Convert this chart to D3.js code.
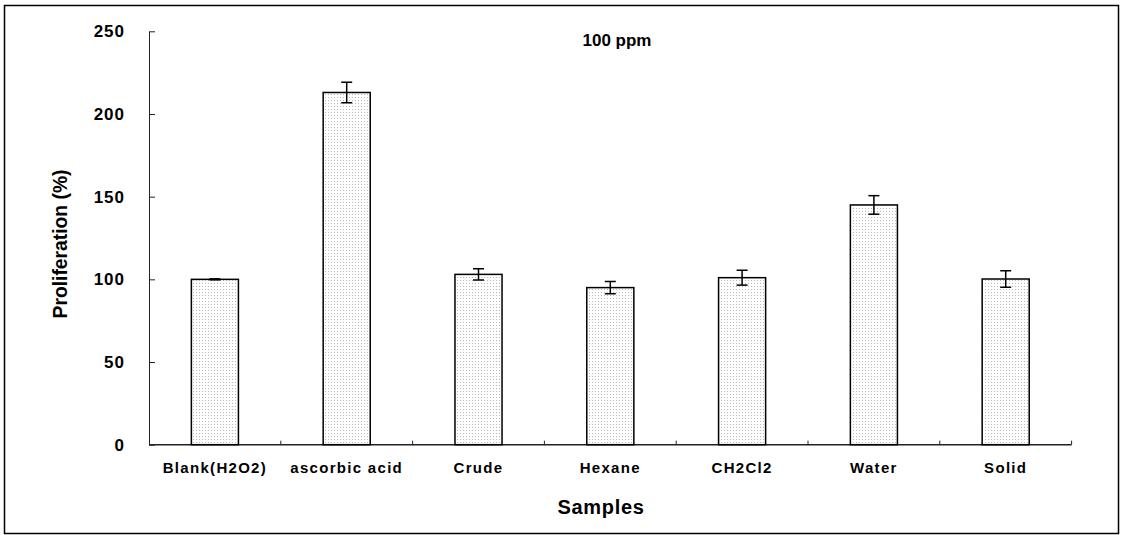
<!DOCTYPE html>
<html>
<head>
<meta charset="utf-8">
<script src="https://cdn.jsdelivr.net/npm/d3@7"></script>
<style>
  html, body { margin: 0; padding: 0; background: #fff; }
  svg { display: block; font-family: Arial, "Liberation Sans", sans-serif; }
</style>
</head>
<body>
<svg id="chart" width="1124" height="535"></svg>
<script>
const categories = ["Blank(H2O2)", "ascorbic acid", "Crude", "Hexane", "CH2Cl2", "Water", "Solid"];
const values = [100, 213, 103, 95, 101, 145, 100.2];
const errors = [0.3, 6.2, 3.4, 3.7, 4.5, 5.6, 5.0];
const yTicks = [0, 50, 100, 150, 200, 250];
const titleText = "100 ppm";
const xTitle = "Samples";
const yTitle = "Proliferation (%)";

const svg = d3.select("#chart");

// pattern fill (fine dotted)
const defs = svg.append("defs");
const pat = defs.append("pattern").attr("id", "dots").attr("patternUnits", "userSpaceOnUse")
  .attr("width", 3).attr("height", 3);
pat.append("rect").attr("width", 3).attr("height", 3).attr("fill", "#fff");
pat.append("rect").attr("x", 1).attr("y", 1).attr("width", 1).attr("height", 1).attr("fill", "#b8b8b8");

// outer border
svg.append("rect").attr("x", 4.5).attr("y", 5.5).attr("width", 1114).attr("height", 528)
  .attr("fill", "none").attr("stroke", "#000").attr("stroke-width", 1.5);

const x0 = 149, x1 = 1071.6, yBottom = 444.7, yTop = 31.3;
const x = d3.scaleBand().domain(categories).range([x0, x1]).padding(0);
const y = d3.scaleLinear().domain([0, 250]).range([yBottom, yTop]);
const barW = x.bandwidth() * 0.357;

// y axis
const yAxis = d3.axisLeft(y).tickValues(yTicks).tickSizeInner(-6).tickSizeOuter(0).tickPadding(24);
const gy = svg.append("g").attr("transform", `translate(${x0},0)`).call(yAxis);
gy.select(".domain").attr("stroke", "#222").attr("stroke-width", 1);
gy.selectAll(".tick line").attr("stroke", "#222");
gy.selectAll("text").attr("font-size", 17).attr("font-weight", "bold").attr("fill", "#000")
  .attr("letter-spacing", 1).attr("font-family", "Arial, 'Liberation Sans', sans-serif");

// x axis: baseline line with boundary ticks
svg.append("line").attr("x1", x0).attr("x2", x1).attr("y1", yBottom).attr("y2", yBottom)
  .attr("stroke", "#222").attr("stroke-width", 1.5);
const boundaries = categories.map(c => x(c) + x.bandwidth());
svg.selectAll(".xb").data(boundaries).enter().append("line")
  .attr("x1", d => d).attr("x2", d => d).attr("y1", yBottom).attr("y2", yBottom - 4)
  .attr("stroke", "#222").attr("stroke-width", 1);

// x labels
svg.selectAll(".xl").data(categories).enter().append("text")
  .attr("x", d => x(d) + x.bandwidth() / 2).attr("y", 472.5)
  .attr("text-anchor", "middle").attr("font-size", 15).attr("font-weight", "bold")
  .attr("letter-spacing", 1.3).text(d => d);

// bars
const data = categories.map((c, i) => ({ c, v: values[i], e: errors[i] }));
svg.selectAll(".bar").data(data).enter().append("rect")
  .attr("x", d => x(d.c) + x.bandwidth() / 2 - barW / 2)
  .attr("y", d => y(d.v))
  .attr("width", barW)
  .attr("height", d => y(0) - y(d.v))
  .attr("fill", "url(#dots)").attr("stroke", "#000").attr("stroke-width", 1.5);

// error bars
const cap = 5.5;
const eg = svg.selectAll(".err").data(data).enter().append("g");
eg.append("line")
  .attr("x1", d => x(d.c) + x.bandwidth() / 2).attr("x2", d => x(d.c) + x.bandwidth() / 2)
  .attr("y1", d => y(d.v + d.e)).attr("y2", d => y(d.v - d.e))
  .attr("stroke", "#000").attr("stroke-width", 1.5);
eg.append("line")
  .attr("x1", d => x(d.c) + x.bandwidth() / 2 - cap).attr("x2", d => x(d.c) + x.bandwidth() / 2 + cap)
  .attr("y1", d => y(d.v + d.e)).attr("y2", d => y(d.v + d.e))
  .attr("stroke", "#000").attr("stroke-width", 1.5);
eg.append("line")
  .attr("x1", d => x(d.c) + x.bandwidth() / 2 - cap).attr("x2", d => x(d.c) + x.bandwidth() / 2 + cap)
  .attr("y1", d => y(d.v - d.e)).attr("y2", d => y(d.v - d.e))
  .attr("stroke", "#000").attr("stroke-width", 1.5);

// titles
svg.append("text").attr("x", 617).attr("y", 46).attr("text-anchor", "middle")
  .attr("font-size", 17).attr("font-weight", "bold").text(titleText);
svg.append("text").attr("x", 601).attr("y", 514).attr("text-anchor", "middle")
  .attr("font-size", 20).attr("font-weight", "bold").attr("letter-spacing", 0.7).text(xTitle);
svg.append("text").attr("transform", "translate(66.5,244) rotate(-90)").attr("text-anchor", "middle")
  .attr("font-size", 19.3).attr("font-weight", "bold").text(yTitle);
</script>
</body>
</html>
